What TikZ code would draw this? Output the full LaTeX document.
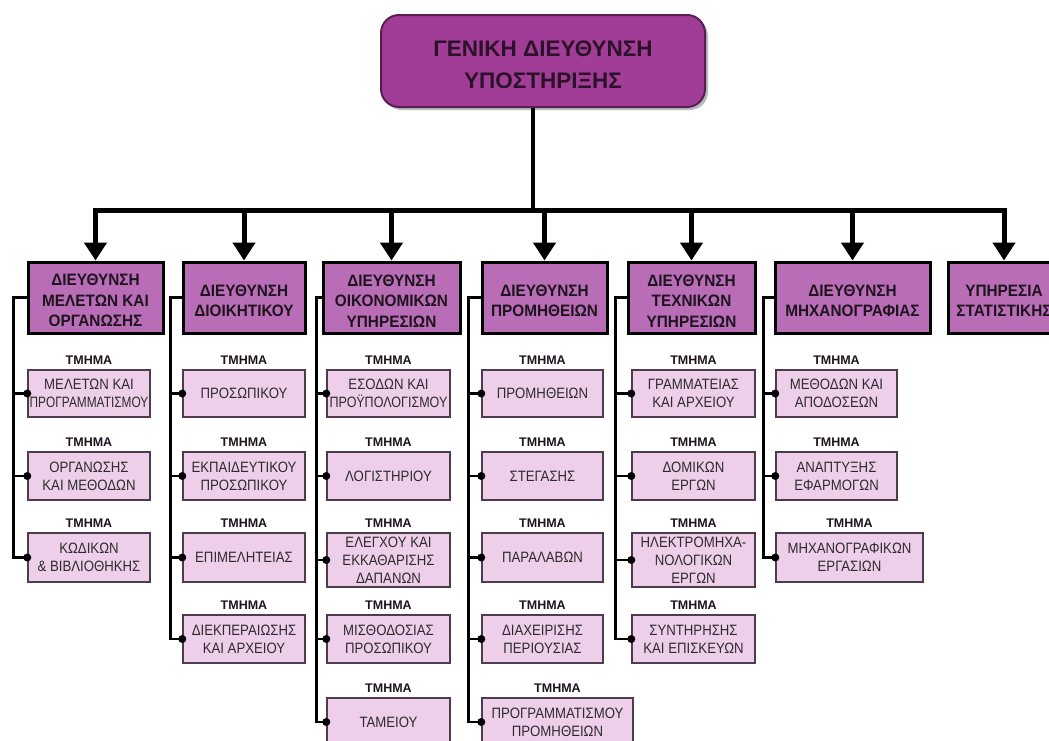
\documentclass[tikz,border=0pt]{standalone}
\usepackage{fontspec}
\setmainfont{Liberation Sans}
\newfontfamily\deptfont{Liberation Sans}[FakeStretch=0.88]
\newfontfamily\dirfont{Liberation Sans}[FakeStretch=0.93]
\usetikzlibrary{arrows.meta,positioning,shadows,calc}

\definecolor{topfill}{HTML}{A23D97}
\definecolor{topline}{HTML}{5A1F52}
\definecolor{toptext}{HTML}{2A1228}
\definecolor{dirfill}{HTML}{B86DB6}
\definecolor{dirtext}{HTML}{1E141E}
\definecolor{deptfill}{HTML}{EDCFE9}
\definecolor{deptline}{HTML}{4E3C4E}
\definecolor{depttext}{HTML}{2E2A2E}

% horizontally squeezed line for long names
\newcommand\narrowline[2]{\scalebox{#1}[1]{#2}}
% invisible strut that lowers a text block slightly inside its box
\newcommand\lowerby[1]{\rule{0pt}{#1}}

% department box with its "ΤΜΗΜΑ" heading: name, x, y, width, height, text
\newcommand\tmbox[6]{%
  \node[deptbox, minimum width=#4pt, minimum height=#5pt] (#1) at (#2,#3) {#6};
  \node[lbl, above=5pt of #1] (#1l) {ΤΜΗΜΑ};
}

\begin{document}
\begin{tikzpicture}[x=1pt,y=-1pt,
  topbox/.style={draw=topline, line width=2pt, fill=topfill, rounded corners=18pt,
    minimum width=324pt, minimum height=92pt, align=center, inner sep=0pt,
    font=\bfseries\fontsize{22.5}{32}\selectfont, text=toptext,
    drop shadow={shadow xshift=3pt, shadow yshift=-3pt, fill=black!60, opacity=0.45}},
  dirbox/.style={draw=black, line width=3pt, fill=dirfill, minimum height=71pt,
    align=center, inner sep=0pt, text=dirtext,
    font=\dirfont\bfseries\fontsize{16.5}{20.5}\selectfont},
  deptbox/.style={draw=deptline, line width=1.4pt, fill=deptfill, align=center,
    inner sep=0pt, text=depttext, font=\deptfont\fontsize{15}{18}\selectfont},
  lbl/.style={inner sep=0pt, text=dirtext, font=\bfseries\fontsize{12.5}{14}\selectfont},
  stem/.style={draw=black, line width=3.5pt},
  bus/.style={draw=black, line width=5pt, line join=miter},
  tip/.style={-{Triangle[width=22pt,length=18pt]}},
  tree/.style={draw=black, line width=2.8pt, line join=miter},
  dotfill/.style={fill=black}
]
\useasboundingbox (0,0) rectangle (1049,740);
\clip (0,0) rectangle (1049,740);
\fill[white] (0,0) rectangle (1049,740);

% head office
\node[topbox] (top) at (543,61) {\lowerby{22.5pt}ΓΕΝΙΚΗ ΔΙΕΥΘΥΝΣΗ\\ΥΠΟΣΤΗΡΙΞΗΣ};

% directorates
\node[dirbox, minimum width=135pt] (d1) at (95.5,297.5) {\lowerby{18pt}ΔΙΕΥΘΥΝΣΗ\\ΜΕΛΕΤΩΝ ΚΑΙ\\ΟΡΓΑΝΩΣΗΣ};
\node[dirbox, minimum width=122pt] (d2) at (244,297.5) {\lowerby{18pt}ΔΙΕΥΘΥΝΣΗ\\ΔΙΟΙΚΗΤΙΚΟΥ};
\node[dirbox, minimum width=137pt] (d3) at (391.5,297.5) {\lowerby{18pt}ΔΙΕΥΘΥΝΣΗ\\ΟΙΚΟΝΟΜΙΚΩΝ\\ΥΠΗΡΕΣΙΩΝ};
\node[dirbox, minimum width=125pt] (d4) at (544.5,297.5) {\lowerby{18pt}ΔΙΕΥΘΥΝΣΗ\\ΠΡΟΜΗΘΕΙΩΝ};
\node[dirbox, minimum width=127pt] (d5) at (691.5,297.5) {\lowerby{18pt}ΔΙΕΥΘΥΝΣΗ\\ΤΕΧΝΙΚΩΝ\\ΥΠΗΡΕΣΙΩΝ};
\node[dirbox, minimum width=155pt] (d6) at (852.5,297.5) {\lowerby{18pt}ΔΙΕΥΘΥΝΣΗ\\ΜΗΧΑΝΟΓΡΑΦΙΑΣ};
\node[dirbox, minimum width=112pt] (d7) at (1004,297.5) {\lowerby{18pt}ΥΠΗΡΕΣΙΑ\\ΣΤΑΤΙΣΤΙΚΗΣ};

% distribution bar with arrows
\coordinate (hub) at (533,210);
\draw[stem] (top.south -| hub) -- (hub);
\draw[bus, {Triangle[width=22pt,length=18pt]}-{Triangle[width=22pt,length=18pt]}]
  (d1.north) |- (d7.north |- hub) -- (d7.north);
\foreach \d in {d2,d3,d4,d5,d6}
  \draw[bus, tip] (\d.north |- hub) -- (\d.north);

% departments
\tmbox{t11}{89}{393.5}{122}{47}{ΜΕΛΕΤΩΝ ΚΑΙ\\\narrowline{0.9}{ΠΡΟΓΡΑΜΜΑΤΙΣΜΟΥ}}
\tmbox{t12}{89}{476}{122}{48}{ΟΡΓΑΝΩΣΗΣ\\ΚΑΙ ΜΕΘΟΔΩΝ}
\tmbox{t13}{89}{557.5}{122}{49}{ΚΩΔΙΚΩΝ\\\& ΒΙΒΛΙΟΘΗΚΗΣ}

\tmbox{t21}{244}{393.5}{122}{47}{ΠΡΟΣΩΠΙΚΟΥ}
\tmbox{t22}{244}{476}{122}{48}{ΕΚΠΑΙΔΕΥΤΙΚΟΥ\\ΠΡΟΣΩΠΙΚΟΥ}
\tmbox{t23}{244}{557.5}{122}{49}{ΕΠΙΜΕΛΗΤΕΙΑΣ}
\tmbox{t24}{244}{639}{122}{48}{ΔΙΕΚΠΕΡΑΙΩΣΗΣ\\ΚΑΙ ΑΡΧΕΙΟΥ}

\tmbox{t31}{388.5}{393.5}{123}{47}{ΕΣΟΔΩΝ ΚΑΙ\\\narrowline{0.95}{ΠΡΟΫΠΟΛΟΓΙΣΜΟΥ}}
\tmbox{t32}{388.5}{476}{123}{48}{ΛΟΓΙΣΤΗΡΙΟΥ}
\tmbox{t33}{388.5}{560}{123}{54}{ΕΛΕΓΧΟΥ ΚΑΙ\\ΕΚΚΑΘΑΡΙΣΗΣ\\ΔΑΠΑΝΩΝ}
\tmbox{t34}{388.5}{639}{123}{48}{ΜΙΣΘΟΔΟΣΙΑΣ\\ΠΡΟΣΩΠΙΚΟΥ}
\tmbox{t35}{388.5}{722}{123}{48}{ΤΑΜΕΙΟΥ}

\tmbox{t41}{542.5}{393.5}{121}{47}{ΠΡΟΜΗΘΕΙΩΝ}
\tmbox{t42}{542.5}{476}{121}{48}{ΣΤΕΓΑΣΗΣ}
\tmbox{t43}{542.5}{557.5}{121}{49}{ΠΑΡΑΛΑΒΩΝ}
\tmbox{t44}{542.5}{639}{121}{48}{ΔΙΑΧΕΙΡΙΣΗΣ\\ΠΕΡΙΟΥΣΙΑΣ}
\tmbox{t45}{557.5}{722}{151}{48}{ΠΡΟΓΡΑΜΜΑΤΙΣΜΟΥ\\ΠΡΟΜΗΘΕΙΩΝ}

\tmbox{t51}{693.5}{393.5}{123}{47}{ΓΡΑΜΜΑΤΕΙΑΣ\\ΚΑΙ ΑΡΧΕΙΟΥ}
\tmbox{t52}{693.5}{476}{123}{48}{ΔΟΜΙΚΩΝ\\ΕΡΓΩΝ}
\tmbox{t53}{693.5}{560}{123}{54}{ΗΛΕΚΤΡΟΜΗΧΑ-\\ΝΟΛΟΓΙΚΩΝ\\ΕΡΓΩΝ}
\tmbox{t54}{693.5}{639}{123}{48}{ΣΥΝΤΗΡΗΣΗΣ\\ΚΑΙ ΕΠΙΣΚΕΥΩΝ}

\tmbox{t61}{836.5}{393.5}{121}{47}{ΜΕΘΟΔΩΝ ΚΑΙ\\ΑΠΟΔΟΣΕΩΝ}
\tmbox{t62}{836.5}{476}{121}{48}{ΑΝΑΠΤΥΞΗΣ\\ΕΦΑΡΜΟΓΩΝ}
\tmbox{t63}{849.5}{557.5}{147}{49}{ΜΗΧΑΝΟΓΡΑΦΙΚΩΝ\\ΕΡΓΑΣΙΩΝ}

% branch lines from each directorate down to its departments
\coordinate (c1) at ($(d1.west)+(-13,0)$);
\coordinate (c2) at ($(d2.west)+(-11,0)$);
\coordinate (c3) at ($(d3.west)+(-5,0)$);
\coordinate (c4) at ($(d4.west)+(-12,0)$);
\coordinate (c5) at ($(d5.west)+(-11,0)$);
\coordinate (c6) at ($(d6.west)+(-10,0)$);

\draw[tree] (d1.west) -- (c1) |- (t13.west);
\foreach \t in {t11,t12} \draw[tree] (c1) |- (\t.west);
\draw[tree] (d2.west) -- (c2) |- (t24.west);
\foreach \t in {t21,t22,t23} \draw[tree] (c2) |- (\t.west);
\draw[tree] (d3.west) -- (c3) |- (t35.west);
\foreach \t in {t31,t32,t33,t34} \draw[tree] (c3) |- (\t.west);
\draw[tree] (d4.west) -- (c4) |- (t45.west);
\foreach \t in {t41,t42,t43,t44} \draw[tree] (c4) |- (\t.west);
\draw[tree] (d5.west) -- (c5) |- (t54.west);
\foreach \t in {t51,t52,t53} \draw[tree] (c5) |- (\t.west);
\draw[tree] (d6.west) -- (c6) |- (t63.west);
\foreach \t in {t61,t62} \draw[tree] (c6) |- (\t.west);

% junction dots where each branch meets its box
\foreach \t in {t11,t12,t13,t21,t22,t23,t24,t31,t32,t33,t34,t35,
                t41,t42,t43,t44,t45,t51,t52,t53,t54,t61,t62,t63}
  \fill[dotfill] (\t.west) circle[radius=4pt];
\end{tikzpicture}
\end{document}
